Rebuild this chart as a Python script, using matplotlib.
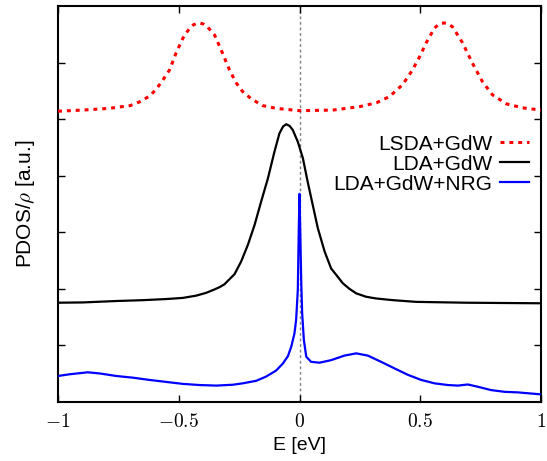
import matplotlib
matplotlib.use("Agg")
import matplotlib.pyplot as plt
from matplotlib.ticker import FixedLocator, FixedFormatter

plt.rcParams["mathtext.fontset"] = "cm"
plt.rcParams["font.family"] = ["Liberation Sans", "DejaVu Sans"]
plt.rcParams["lines.solid_joinstyle"] = "round"
plt.rcParams["lines.dash_joinstyle"] = "round"
plt.rcParams["lines.dash_capstyle"] = "butt"

# LSDA+GdW (offset curve)
e_lsda = [-1.0, -0.90, -0.79, -0.70, -0.66, -0.62, -0.593, -0.566, -0.538, -0.511,
          -0.483, -0.455, -0.44, -0.427, -0.414, -0.397, -0.381, -0.352, -0.324,
          -0.290, -0.262, -0.236, -0.200, -0.153, -0.096, 0.0, 0.137, 0.248, 0.319,
          0.373, 0.427, 0.468, 0.497, 0.526, 0.559, 0.575, 0.588, 0.600, 0.617,
          0.634, 0.675, 0.716, 0.758, 0.799, 0.857, 0.923, 1.0]
dos_lsda = [5.14, 5.16, 5.19, 5.24, 5.31, 5.41, 5.53, 5.69, 5.87, 6.17,
            6.43, 6.61, 6.665, 6.69, 6.70, 6.68, 6.63, 6.49, 6.22,
            5.87, 5.64, 5.49, 5.36, 5.24, 5.19, 5.15, 5.16, 5.22, 5.29,
            5.40, 5.61, 5.87, 6.10, 6.36, 6.61, 6.67, 6.695, 6.70, 6.68,
            6.63, 6.35, 5.99, 5.66, 5.43, 5.27, 5.20, 5.16]

# LDA+GdW (offset curve)
e_lda = [-1.0, -0.897, -0.759, -0.649, -0.552, -0.483, -0.428, -0.386, -0.352,
         -0.331, -0.311, -0.29, -0.269, -0.242, -0.214, -0.186, -0.159, -0.131,
         -0.104, -0.083, -0.068, -0.055, -0.041, -0.028, -0.007, 0.014, 0.034,
         0.055, 0.076, 0.104, 0.131, 0.159, 0.179, 0.207, 0.235, 0.276, 0.317,
         0.387, 0.483, 0.69, 1.0]
dos_lda = [1.755, 1.76, 1.785, 1.80, 1.82, 1.84, 1.88, 1.93, 1.99,
           2.03, 2.08, 2.17, 2.26, 2.48, 2.775, 3.13, 3.54, 3.95,
           4.42, 4.75, 4.87, 4.91, 4.88, 4.81, 4.60, 4.31, 3.89,
           3.48, 3.07, 2.66, 2.36, 2.21, 2.10, 2.00, 1.92, 1.86, 1.83,
           1.80, 1.77, 1.755, 1.745]

# LDA+GdW+NRG
e_nrg = [-1.0, -0.952, -0.877, -0.828, -0.759, -0.690, -0.621, -0.552, -0.483,
         -0.414, -0.345, -0.276, -0.235, -0.179, -0.138, -0.097, -0.069, -0.048,
         -0.034, -0.021, -0.014, -0.007, -0.003, 0.0, 0.003, 0.007, 0.011, 0.018,
         0.028, 0.048, 0.083, 0.131, 0.186, 0.235, 0.283, 0.338, 0.393, 0.449,
         0.504, 0.559, 0.614, 0.656, 0.697, 0.738, 0.794, 0.849, 0.904, 0.959, 1.0]
dos_nrg = [0.46, 0.49, 0.525, 0.505, 0.46, 0.43, 0.39, 0.355, 0.32,
           0.30, 0.29, 0.305, 0.33, 0.375, 0.45, 0.555, 0.68, 0.81,
           0.98, 1.21, 1.45, 1.98, 3.04, 3.68, 3.04, 2.16, 1.57, 1.10,
           0.80, 0.71, 0.695, 0.74, 0.82, 0.86, 0.82, 0.71, 0.595, 0.48,
           0.39, 0.33, 0.30, 0.29, 0.31, 0.27, 0.21, 0.18, 0.17, 0.15, 0.135]

x_ticks = [-1, -0.5, 0, 0.5, 1]
x_ticklabels = [r"$-1$", r"$-0.5$", r"$0$", r"$0.5$", r"$1$"]
y_ticks = [1, 2, 3, 4, 5, 6]

fig = plt.figure(figsize=(5.47, 4.61), dpi=100)
ax = fig.add_axes([58 / 547, 59 / 461, 483 / 547, 396 / 461])

ax.axvline(0, color="#808080", lw=1.0, ls=(0, (2, 2)), zorder=1)

ax.plot(e_lsda, dos_lsda, color="#ff0000", lw=2.2, ls=(0, (1.3, 1.6)),
        label="LSDA+GdW", zorder=3)
ax.plot(e_lda, dos_lda, color="black", lw=1.6, label="LDA+GdW", zorder=3)
ax.plot(e_nrg, dos_nrg, color="#0000ff", lw=1.6, label="LDA+GdW+NRG", zorder=3)

ax.set_xlim(-1, 1)
ax.set_ylim(0, 7)
ax.xaxis.set_major_locator(FixedLocator(x_ticks))
ax.xaxis.set_major_formatter(FixedFormatter(x_ticklabels))
ax.yaxis.set_major_locator(FixedLocator(y_ticks))
ax.set_yticklabels([])
ax.tick_params(direction="in", length=5, width=1, top=True, right=True,
               labelsize=14, pad=8)
for sp in ax.spines.values():
    sp.set_linewidth(1.5)

ax.set_xlabel("E [eV]", fontsize=14, labelpad=4)
ax.set_ylabel(r"PDOS/$\rho$ [a.u.]", fontsize=15, labelpad=7)

leg = ax.legend(loc="upper right", bbox_to_anchor=(0.975, 0.675), frameon=False,
                markerfirst=False, fontsize=15, handlelength=1.4,
                handletextpad=0.35, labelspacing=0.05, borderpad=0,
                borderaxespad=0)

fig.savefig("out.png", dpi=100)
